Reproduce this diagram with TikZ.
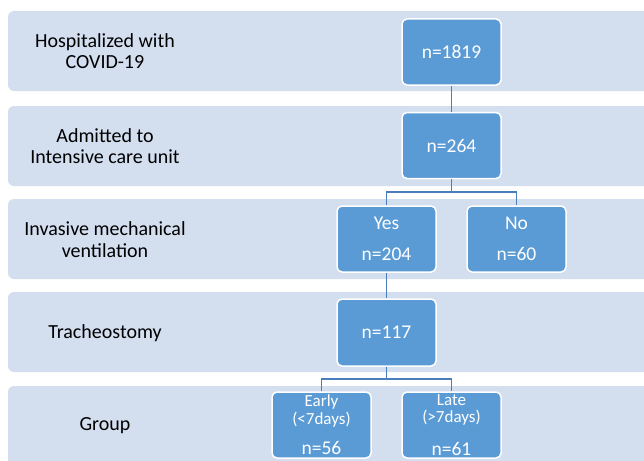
\documentclass[tikz,border=0pt]{standalone}
\usepackage{fontspec}
\setmainfont{Carlito}
\definecolor{bandcol}{HTML}{D3DEEF}
\definecolor{boxcol}{HTML}{5B9BD5}
\definecolor{conncol}{HTML}{4A7EBB}
\tikzset{
  band/.style={fill=bandcol, rounded corners=6pt},
  box/.style={fill=boxcol, draw=white, line width=1.5pt, rounded corners=5pt, minimum width=99pt, minimum height=66pt, inner sep=0pt, text=white},
  lbl/.style={font=\fontsize{20}{21.5}\selectfont, align=center, text=black},
  num/.style={font=\fontsize{19.5}{21}\selectfont, text=white, inner sep=0pt},
  small/.style={font=\fontsize{17}{18}\selectfont, text=white, inner sep=0pt},
  conn/.style={draw=conncol, line width=1.4pt}
}
\begin{document}
\begin{tikzpicture}[x=1pt,y=-1pt]
\useasboundingbox (0,0) rectangle (644,460);
\clip (0,0) rectangle (644,460);
\fill[white] (0,0) rectangle (644,460);
% bands
\fill[band] (8,11) rectangle (670,91);
\fill[band] (8,106) rectangle (670,186);
\fill[band] (8,199) rectangle (670,279);
\fill[band] (8,292) rectangle (670,372);
\fill[band] (8,386) rectangle (670,490);
% band labels
\node[lbl] (l1) at (105,51) {Hospitalized with\\COVID-19};
\node[lbl] (l2) at (105,146) {Admitted to\\Intensive care unit};
\node[lbl] (l3) at (105,239.5) {Invasive mechanical\\ventilation};
\node[lbl] (l4) at (105,333) {Tracheostomy};
\node[lbl] (l5) at (105,426) {Group};
% boxes
\node[box] (b1) at (451.5,52) {};
\node[box] (b2) at (451.5,145.5) {};
\node[box] (yes) at (386.5,239) {};
\node[box] (no) at (516.5,239) {};
\node[box, minimum height=67pt] (tr) at (386.5,332.5) {};
\node[box] (early) at (321.5,425) {};
\node[box] (late) at (451.5,425) {};
% box texts
\node[num] (t1) at (b1.center) {n=1819};
\node[num] (t2) at (b2.center) {n=264};
\node[num] (t3a) at ([yshift=16pt]yes.center) {Yes};
\node[num] (t3b) at ([yshift=-15pt]yes.center) {n=204};
\node[num] (t4a) at ([yshift=16pt]no.center) {No};
\node[num] (t4b) at ([yshift=-15pt]no.center) {n=60};
\node[num] (t5) at (tr.center) {n=117};
\node[small] (t6a) at ([yshift=23pt]early.center) {Early};
\node[small] (t6b) at ([yshift=5pt]early.center) {(<7days)};
\node[num] (t6c) at ([yshift=-23pt]early.center) {n=56};
\node[small] (t7a) at ([yshift=25pt]late.center) {Late};
\node[small] (t7b) at ([yshift=7pt]late.center) {(>7days)};
\node[num] (t7c) at ([yshift=-24pt]late.center) {n=61};
% connectors
\coordinate (j1) at (451.5,192);
\coordinate (j2) at (386.5,379);
\draw[conn] (b1.south) -- (b2.north);
\draw[conn] (b2.south) -- (j1);
\draw[conn] (yes.north) |- (j1) -| (no.north);
\draw[conn] (yes.south) -- (tr.north);
\draw[conn] (tr.south) -- (j2);
\draw[conn] (early.north) |- (j2) -| (late.north);
\end{tikzpicture}
\end{document}
